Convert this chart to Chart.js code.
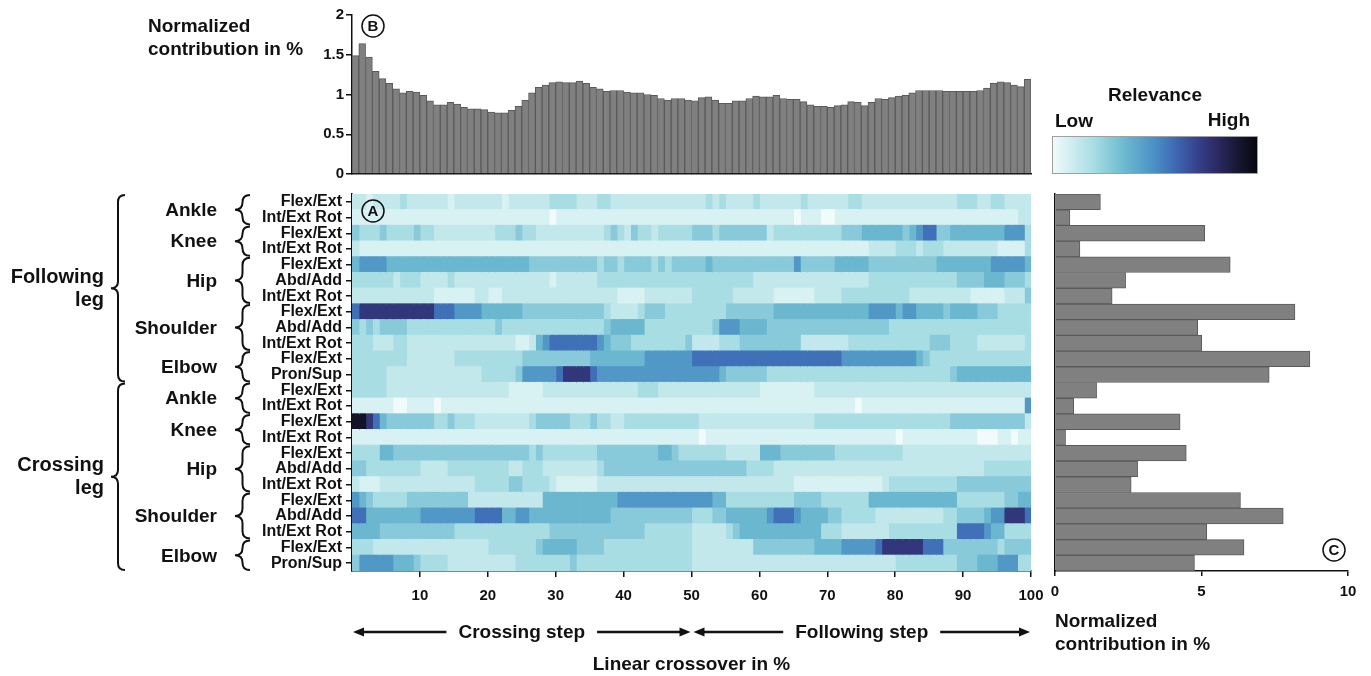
<!DOCTYPE html>
<html>
<head>
<meta charset="utf-8">
<script src="https://cdn.jsdelivr.net/npm/chart.js@4.4.1/dist/chart.umd.min.js"></script>
<style>
  body { margin: 0; background: #fff; width: 1371px; height: 676px; overflow: hidden; position: relative; }
  canvas { position: absolute; }
</style>
</head>
<body>
<canvas id="topChart" width="1040" height="185" style="left:0;top:0"></canvas>
<canvas id="heatChart" width="1060" height="491" style="left:0;top:185px"></canvas>
<canvas id="sideChart" width="331" height="596" style="left:1040px;top:80px"></canvas>
<script>
// step categories 1..100 (linear crossover in %)
let steps = [];
for (let i = 1; i <= 100; i++) steps.push(String(i));

// B: normalized contribution per step
let stepContribution = [
  1.49, 1.64, 1.47, 1.29, 1.20, 1.14, 1.07, 1.02, 1.04, 1.03,
  0.99, 0.92, 0.87, 0.87, 0.90, 0.88, 0.84, 0.82, 0.82, 0.81,
  0.78, 0.77, 0.77, 0.80, 0.85, 0.93, 1.02, 1.09, 1.12, 1.15,
  1.16, 1.15, 1.15, 1.17, 1.14, 1.09, 1.07, 1.04, 1.05, 1.05,
  1.03, 1.02, 1.02, 1.00, 0.99, 0.95, 0.93, 0.95, 0.95, 0.93,
  0.92, 0.96, 0.97, 0.93, 0.89, 0.89, 0.92, 0.92, 0.95, 0.98,
  0.97, 0.97, 0.99, 0.95, 0.94, 0.94, 0.91, 0.87, 0.85, 0.85,
  0.84, 0.86, 0.87, 0.91, 0.90, 0.86, 0.90, 0.95, 0.94, 0.96,
  0.98, 0.99, 1.02, 1.05, 1.05, 1.05, 1.05, 1.04, 1.04, 1.04,
  1.04, 1.04, 1.05, 1.08, 1.14, 1.16, 1.15, 1.12, 1.10, 1.19
];

// rows of the heatmap (degrees of freedom)
let dofLabels = [
  "Flex/Ext", "Int/Ext Rot", "Flex/Ext", "Int/Ext Rot", "Flex/Ext", "Abd/Add", "Int/Ext Rot",
  "Flex/Ext", "Abd/Add", "Int/Ext Rot", "Flex/Ext", "Pron/Sup",
  "Flex/Ext", "Int/Ext Rot", "Flex/Ext", "Int/Ext Rot", "Flex/Ext", "Abd/Add", "Int/Ext Rot",
  "Flex/Ext", "Abd/Add", "Int/Ext Rot", "Flex/Ext", "Pron/Sup"
];
let joints = ["Ankle", "Knee", "Hip", "Shoulder", "Elbow"];
let jointSizes = [2, 2, 3, 3, 2];
let legs = [["Following", "leg"], ["Crossing", "leg"]];

// C: normalized contribution per degree of freedom
let dofContribution = [1.55, 0.51, 5.11, 0.85, 5.98, 2.41, 1.95, 8.19, 4.87, 5.01, 8.70, 7.31,
                       1.42, 0.64, 4.27, 0.36, 4.48, 2.82, 2.60, 6.33, 7.79, 5.18, 6.45, 4.76];

// A: relevance, 0 (low) .. 9 (high), one string of 100 steps per row
let relevanceRows = [
  "2212222322 2222122222 2212222223 3332223322 2222222222 2232322223 2222223222 2223322222 2222222223 3322332222",
  "1111111111 1111111111 1111111110 1111111111 1111111111 1111111111 1111101110 0111111111 1111111111 1111111122",
  "4333433334 3322222222 2333433222 2222222343 2433233333 4443444444 4233333333 3344455555 5456774455 5555556663",
  "2111111111 1111111111 1111111111 1111111111 1111111111 1111111111 1111111111 1111112222 3332333222 2222211113",
  "5666655555 5555555555 5555554444 4444443443 4444343444 4454444444 4444464444 4555554444 4444445555 5555666665",
  "3333332333 2222322222 2222222221 2222223333 3333333333 3333333332 2222222222 2222223333 3333333334 4445554443",
  "2222222222 2211111122 1122222222 2222222221 1112222222 3333332222 2211111122 2233333333 3322222222 2111112224",
  "7888888888 8877766665 5555544444 4444444322 2234443333 3333344444 4455555555 5555556666 5665555455 5544433333",
  "4343444433 3333333333 3433333333 3333333455 5553333333 3334666555 5444444444 4444444443 3333333333 3333333333",
  "3332223322 2222222222 2222112567 7777776544 4333333334 2222333444 4444442222 2223333333 3333344433 3322222223",
  "3333333322 2222233333 3333344444 4444455555 5556666666 7777777777 7777777777 7766666666 6665433333 3333333333",
  "3333322222 2222222223 3333466666 7888876666 6666666666 6666544444 4333333333 3333333333 3333333345 5555555555",
  "3333322222 2222222222 2221111122 2222222222 2233322222 2222222222 1111111122 2222222222 2222222222 2222222222",
  "1111110011 1101111111 1111111111 1111111111 1111111111 1111111111 1111111111 1111011111 1111111111 1111111116",
  "9987544444 4433433322 2222223444 4433343322 3333333333 3222222222 2222222233 3333333333 3333333344 4444444442",
  "1111111111 1111111111 1111111111 1111111111 1111111111 1011111111 1111111111 1111111111 0111111111 1100011011",
  "3333554444 4444444444 4444443433 3333334444 4444455433 3333322222 5554444444 4333333333 3222222222 2222222222",
  "4433333333 2222333333 3332233322 2222223444 4444444444 4444444433 3322222222 2222222222 2222222222 2223333333",
  "2111222222 2222222233 3334433332 1111112222 2222222222 2222222222 2222211111 1111111123 3333333334 4444444444",
  "6543333344 4444444222 2222222255 5555555556 6666666666 6665533333 3333344443 3333335555 5555555553 3333334455",
  "7755555555 6666666677 7755665555 5555555544 4444444444 3334455555 5677765555 4433333222 2222222334 4445668887",
  "5555444444 4444433333 3333333334 4444444444 4443333333 2222234555 5555555553 3322222223 3333333337 7776553333",
  "3332222222 2222222222 3333333455 5554444333 3333333333 2222222224 4444444455 5566666788 8888777444 4444434444",
  "4666665554 3333222222 2222333333 3343333333 3333333333 2222222222 2222222222 2222222222 3333333334 4455566633"
];
let relevance = relevanceRows.map(s => s.replace(/ /g, "").split("").map(Number));

// colour scale
let scaleStops = [
  [0, "#f2fbfb"], [0.2, "#a9dde4"], [0.35, "#6cbad0"], [0.5, "#4a8fc5"], [0.6, "#3e68b3"],
  [0.7, "#36438f"], [0.8, "#2b2a64"], [0.9, "#181733"], [1, "#06060c"]
];
let levelPos = [0, 0.07, 0.13, 0.2, 0.28, 0.36, 0.47, 0.58, 0.75, 0.93];

function hexRgb(h) {
  return [parseInt(h.slice(1, 3), 16), parseInt(h.slice(3, 5), 16), parseInt(h.slice(5, 7), 16)];
}
function relevanceColor(level) {
  let t = levelPos[level];
  for (let i = 1; i < scaleStops.length; i++) {
    if (t <= scaleStops[i][0]) {
      let a = scaleStops[i - 1], b = scaleStops[i];
      let f = (t - a[0]) / (b[0] - a[0]);
      let ca = hexRgb(a[1]), cb = hexRgb(b[1]);
      let c = ca.map((v, k) => Math.round(v + (cb[k] - v) * f));
      return "rgb(" + c.join(",") + ")";
    }
  }
  return scaleStops[scaleStops.length - 1][1];
}

Chart.defaults.font.family = "'Liberation Sans', Arial, sans-serif";
Chart.defaults.font.weight = "bold";
Chart.defaults.color = "#111";
Chart.defaults.animation = false;
Chart.defaults.plugins.legend.display = false;
Chart.defaults.plugins.tooltip.enabled = false;

let ink = "#111";

function circleLetter(ctx, x, y, letter) {
  ctx.save();
  ctx.beginPath();
  ctx.arc(x, y, 11, 0, Math.PI * 2);
  ctx.lineWidth = 1.5;
  ctx.strokeStyle = ink;
  ctx.stroke();
  ctx.fillStyle = ink;
  ctx.font = "bold 15px 'Liberation Sans', Arial, sans-serif";
  ctx.textAlign = "center";
  ctx.textBaseline = "middle";
  ctx.fillText(letter, x, y + 1);
  ctx.restore();
}

function brace(ctx, tipX, y0, y1, w) {
  let xm = tipX + w / 2, xe = tipX + w, ym = (y0 + y1) / 2;
  let r = Math.min(w / 2, (y1 - y0) / 4);
  ctx.beginPath();
  ctx.moveTo(xe, y0);
  ctx.quadraticCurveTo(xm, y0, xm, y0 + r);
  ctx.lineTo(xm, ym - r);
  ctx.quadraticCurveTo(xm, ym, tipX, ym);
  ctx.quadraticCurveTo(xm, ym, xm, ym + r);
  ctx.lineTo(xm, y1 - r);
  ctx.quadraticCurveTo(xm, y1, xe, y1);
  ctx.stroke();
}

function arrow(ctx, xFrom, xTo, y) {
  let dir = Math.sign(xTo - xFrom);
  ctx.beginPath();
  ctx.moveTo(xFrom, y);
  ctx.lineTo(xTo - dir * 8, y);
  ctx.stroke();
  ctx.beginPath();
  ctx.moveTo(xTo, y);
  ctx.lineTo(xTo - dir * 11, y - 4.5);
  ctx.lineTo(xTo - dir * 11, y + 4.5);
  ctx.closePath();
  ctx.fill();
}

let axisGrid = { drawOnChartArea: false, tickLength: 6, color: ink, lineWidth: 1.5 };
let axisBorder = { color: ink, width: 1.5 };

// ---------- B: top bar chart ----------
let topDecor = {
  id: "topDecor",
  afterDraw(chart) {
    let ctx = chart.ctx;
    ctx.save();
    ctx.fillStyle = ink;
    ctx.font = "bold 19px 'Liberation Sans', Arial, sans-serif";
    ctx.textAlign = "left";
    ctx.textBaseline = "middle";
    ctx.fillText("Normalized", 148, 27);
    ctx.fillText("contribution in %", 148, 50);
    ctx.restore();
    circleLetter(ctx, chart.chartArea.left + 21, chart.chartArea.top + 11, "B");
  }
};

new Chart(document.getElementById("topChart"), {
  type: "bar",
  data: {
    labels: steps,
    datasets: [{
      data: stepContribution,
      backgroundColor: "#808080",
      borderColor: "#5a5a5a",
      borderWidth: 1,
      barPercentage: 1,
      categoryPercentage: 1
    }]
  },
  options: {
    responsive: false,
    layout: { padding: { top: 15, right: 9, bottom: 10, left: 0 } },
    scales: {
      x: {
        ticks: { display: false },
        grid: { display: false, offset: false },
        border: axisBorder,
        afterFit: s => { s.height = 0; }
      },
      y: {
        min: 0, max: 2,
        ticks: { stepSize: 0.5, font: { size: 15 }, padding: 2, callback: v => String(v) },
        grid: axisGrid,
        border: axisBorder,
        afterFit: s => { s.width = 352; }
      }
    }
  },
  plugins: [topDecor]
});

// ---------- A: heatmap ----------
let heatDatasets = steps.map((s, c) => ({
  data: dofLabels.map(() => [c, c + 1]),
  backgroundColor: relevance.map(row => relevanceColor(row[c])),
  borderWidth: 0,
  inflateAmount: 0.6,
  grouped: false,
  barPercentage: 1,
  categoryPercentage: 1
}));

let heatDecor = {
  id: "heatDecor",
  afterDraw(chart) {
    let ctx = chart.ctx, ys = chart.scales.y, xs = chart.scales.x, area = chart.chartArea;
    let rowH = ys.getPixelForValue(1) - ys.getPixelForValue(0);
    let rowTop = r => ys.getPixelForValue(r) - rowH / 2;
    ctx.save();
    ctx.fillStyle = ink;
    ctx.strokeStyle = ink;
    ctx.lineWidth = 2;
    ctx.textBaseline = "middle";

    // joints and legs
    legs.forEach((leg, li) => {
      let start = li * 12;
      let r = start;
      joints.forEach((joint, ji) => {
        let y0 = rowTop(r), y1 = rowTop(r + jointSizes[ji]);
        ctx.font = "bold 19px 'Liberation Sans', Arial, sans-serif";
        ctx.textAlign = "right";
        ctx.fillText(joint, 217, (y0 + y1) / 2 + 1);
        brace(ctx, 235, y0 + 1, y1 - 1, 15);
        r += jointSizes[ji];
      });
      let g0 = rowTop(start), g1 = rowTop(start + 12);
      let gm = (g0 + g1) / 2;
      ctx.font = "bold 20px 'Liberation Sans', Arial, sans-serif";
      ctx.textAlign = "right";
      ctx.fillText(leg[0], 104, gm - 11);
      ctx.fillText(leg[1], 104, gm + 12);
      brace(ctx, 111, g0 + 1, g1 - 1, 14);
    });

    // phase arrows
    let x0 = xs.getPixelForValue(0), x50 = xs.getPixelForValue(50), x100 = xs.getPixelForValue(100);
    let ay = area.bottom + 61;
    ctx.font = "bold 19px 'Liberation Sans', Arial, sans-serif";
    ctx.textAlign = "center";
    ctx.lineWidth = 2.5;
    [["Crossing step", x0 + 1, x50 - 1], ["Following step", x50 + 2, x100 - 1]].forEach(p => {
      let cx = (p[1] + p[2]) / 2;
      let w = ctx.measureText(p[0]).width;
      ctx.fillText(p[0], cx, ay + 1);
      arrow(ctx, cx - w / 2 - 12, p[1], ay);
      arrow(ctx, cx + w / 2 + 12, p[2], ay);
    });
    ctx.restore();
    circleLetter(ctx, area.left + 21, area.top + 17, "A");
  }
};

new Chart(document.getElementById("heatChart"), {
  type: "bar",
  data: { labels: dofLabels, datasets: heatDatasets },
  options: {
    responsive: false,
    indexAxis: "y",
    layout: { padding: { top: 9, right: 29, bottom: 0, left: 0 } },
    scales: {
      y: {
        type: "category",
        offset: true,
        ticks: { font: { size: 16 }, padding: 4, autoSkip: false },
        grid: Object.assign({ offset: false }, axisGrid),
        border: axisBorder,
        afterFit: s => { s.width = 352; s.paddingTop = 0; s.paddingBottom = 0; }
      },
      x: {
        type: "linear",
        min: 0, max: 100,
        afterBuildTicks: s => { s.ticks = s.ticks.filter(t => t.value > 0); },
        ticks: { stepSize: 10, font: { size: 15 }, padding: 10, maxRotation: 0, autoSkip: false },
        grid: axisGrid,
        border: axisBorder,
        title: { display: true, text: "Linear crossover in %", font: { size: 19, weight: "bold" }, padding: { top: 0, bottom: 0 } },
        afterFit: s => { s.height = 105; }
      }
    }
  },
  plugins: [heatDecor]
});

// ---------- C: side bar chart + colour legend ----------
let sideDecor = {
  id: "sideDecor",
  afterDraw(chart) {
    let ctx = chart.ctx, area = chart.chartArea;
    ctx.save();
    let bx = area.left - 3, by = 56, bw = 206, bh = 38;
    let g = ctx.createLinearGradient(bx, 0, bx + bw, 0);
    scaleStops.forEach(s => g.addColorStop(s[0], s[1]));
    ctx.fillStyle = g;
    ctx.fillRect(bx, by, bw, bh);
    ctx.strokeStyle = "#a0a0a0";
    ctx.lineWidth = 1;
    ctx.strokeRect(bx + 0.5, by + 0.5, bw - 1, bh - 1);
    ctx.fillStyle = ink;
    ctx.font = "bold 19px 'Liberation Sans', Arial, sans-serif";
    ctx.textBaseline = "middle";
    ctx.textAlign = "center";
    ctx.fillText("Relevance", bx + bw / 2, 16);
    ctx.textAlign = "left";
    ctx.fillText("Low", area.left, 42);
    ctx.textAlign = "right";
    ctx.fillText("High", bx + bw - 8, 41);
    ctx.restore();
    circleLetter(ctx, area.right - 14, area.bottom - 21, "C");
  }
};

new Chart(document.getElementById("sideChart"), {
  type: "bar",
  data: {
    labels: dofLabels,
    datasets: [{
      data: dofContribution,
      backgroundColor: "#808080",
      borderColor: "#5a5a5a",
      borderWidth: 1,
      barPercentage: 1,
      categoryPercentage: 1
    }]
  },
  options: {
    responsive: false,
    indexAxis: "y",
    layout: { padding: { top: 114, right: 23, bottom: 0, left: 0 } },
    scales: {
      y: {
        ticks: { display: false },
        grid: { display: false, offset: false },
        border: axisBorder,
        afterFit: s => { s.width = 15; }
      },
      x: {
        min: 0, max: 10,
        ticks: { stepSize: 5, font: { size: 15 }, padding: 7, maxRotation: 0 },
        grid: Object.assign({}, axisGrid, { tickLength: 5 }),
        border: axisBorder,
        title: {
          display: true, align: "start",
          text: ["Normalized", "contribution in %"],
          font: { size: 19, weight: "bold", lineHeight: 1.25 },
          padding: { top: 0, bottom: 19 }
        },
        afterFit: s => { s.height = 105; }
      }
    }
  },
  plugins: [sideDecor]
});
</script>
</body>
</html>
